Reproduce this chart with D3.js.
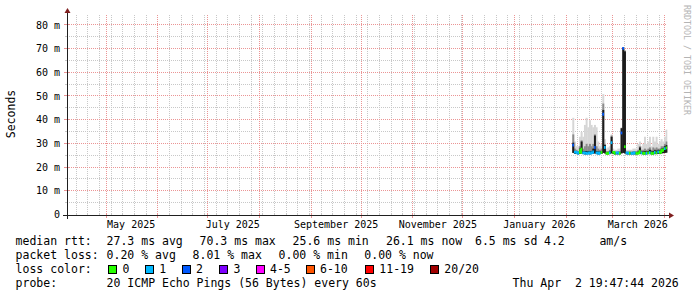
<!DOCTYPE html>
<html><head><meta charset="utf-8">
<script src="https://cdn.jsdelivr.net/npm/d3@7"></script>
<style>html,body{margin:0;padding:0;background:#fff;} svg{display:block;} text{white-space:pre;}</style>
</head><body>
<svg id="chart" width="697" height="297"></svg>
<script>
// ---------- data ----------
const rangeStart = "2025-04-07T19:47:44Z";
const rangeEnd = "2026-04-02T19:47:44Z";
const sampleDates = ["2026-02-05","2026-02-06","2026-02-07","2026-02-08","2026-02-09","2026-02-10","2026-02-11","2026-02-12","2026-02-13","2026-02-14",
  "2026-02-15","2026-02-16","2026-02-17","2026-02-18","2026-02-19","2026-02-20","2026-02-21","2026-02-22","2026-02-23","2026-02-24",
  "2026-02-25","2026-02-26","2026-02-27","2026-02-28","2026-03-01","2026-03-02","2026-03-03","2026-03-04","2026-03-05","2026-03-06",
  "2026-03-07","2026-03-08","2026-03-09","2026-03-10","2026-03-11","2026-03-12","2026-03-13","2026-03-14","2026-03-15","2026-03-16",
  "2026-03-17","2026-03-18","2026-03-19","2026-03-20","2026-03-21","2026-03-22","2026-03-23","2026-03-24","2026-03-25","2026-03-26",
  "2026-03-27","2026-03-28","2026-03-29","2026-03-30","2026-03-31","2026-04-01","2026-04-02"];
// median rtt (ms)
const medianRtt = [29.5,26.5,26.3,26.0,26.4,27.8,26.2,26.1,26.0,26.2,
  26.1,26.3,26.6,28.5,26.2,26.0,26.2,26.4,42.5,28.5,
  26.0,26.1,26.3,30.5,26.4,26.0,26.2,26.1,26.0,34.6,
  70.3,28.8,26.2,26.0,26.1,26.0,26.2,26.1,26.0,26.2,
  26.8,26.2,26.0,26.1,26.0,26.2,26.3,26.0,26.1,26.4,
  26.2,26.6,26.4,27.2,27.6,28.0,28.3];
// lost pings out of 20
const lossCount = [2,1,1,1,0,0,1,1,1,1,
  1,1,1,2,1,1,1,0,2,1,
  0,0,1,1,0,0,1,1,0,2,
  2,0,1,1,0,1,1,1,0,0,
  0,1,0,0,1,0,1,0,0,1,
  0,1,0,0,0,1,0];
// smoke: lowest ping, dense-core top, mid top, highest ping (ms)
const smokeMin = [26.2,25.8,25.7,25.6,25.8,26.0,25.7,25.6,25.6,25.7,
  25.6,25.7,25.8,26.0,25.7,25.6,25.7,25.8,26.2,26.0,
  25.6,25.6,25.7,26.0,25.7,25.6,25.6,25.6,25.6,26.0,
  26.2,26.0,25.6,25.6,25.6,25.6,25.6,25.6,25.6,25.7,
  25.8,25.7,25.6,25.6,25.6,25.7,25.7,25.6,25.6,25.7,
  25.7,25.8,25.7,26.0,26.1,26.2,26.3];
const smokeDark = [30.5,27,26.8,26.5,28,31,26.8,27,27,27,
  27,27,28,33.5,27,26.8,26.8,27,44.3,29.5,
  26.5,26.5,27,33,26.5,26.4,26.4,26.5,26.5,36.6,
  70.6,69,26.4,26.4,26.4,26.4,26.5,26.5,26.5,26.8,
  28.5,26.8,26.8,27,26.8,27,27.5,26.8,27,27.3,
  27.2,27.5,27.3,28,28.3,29,29.5];
const smokeMid = [34,28,27.5,27,29,31.5,28,29,30,29,
  30,29,30,34,29,28,27.5,28,47,30,
  27,27,27.5,33.5,27,26.8,26.8,27,27,36.6,
  70.6,69.3,26.8,26.8,26.8,26.8,27,27,27,27.5,
  29,27.5,27.5,28,27.5,28,28.5,27.5,28.5,28,
  28.5,28,28,29,29,30,31];
const smokeMax = [41,31,29,29,33,35,33,38,41,37,
  40,38,37,38,37,31,29,30,51,32,
  28,28.5,29,34,28,27.5,27.5,28,28,37,
  70.8,69.6,27.5,27.5,27.5,27.5,28,28,28,30,
  31,29,30,33,30,31,33,29,33,31,
  33,30,31,32,31,33,36];
const yTickValues = [0,10,20,30,40,50,60,70,80];
const yTickLabels = ["0","10 m","20 m","30 m","40 m","50 m","60 m","70 m","80 m"];
const yMax = 84.36;
const lossLabels = ["0","1","2","3","4-5","6-10","11-19","20/20"];
const lossColors = ["#26ff00","#00b8ff","#0059ff","#7e00ff","#ff00ff","#ff5500","#ff0000","#a10000"];
const medianStats = ["27.3 ms avg","70.3 ms max","25.6 ms min","26.1 ms now","6.5 ms sd","4.2","am/s"];
const lossStats = ["0.20 % avg","8.01 % max","0.00 % min","0.00 % now"];
const probeText = "20 ICMP Echo Pings (56 Bytes) every 60s";
const stampText = "Thu Apr  2 19:47:44 2026";

// ---------- layout ----------
const L = 67, R = 667, T = 15, B = 215;
const MONO = "'DejaVu Sans Mono', monospace";
const svg = d3.select("#chart");
svg.append("rect").attr("width",697).attr("height",297).attr("fill","#fff");

const x = d3.scaleUtc().domain([new Date(rangeStart), new Date(rangeEnd)]).range([L, R]);
const y = d3.scaleLinear().domain([0, yMax]).range([B, T]);
const snap = v => Math.round(v) + 0.5;

// grid
const g = svg.append("g");
const weeks = d3.utcSunday.range(x.domain()[0], x.domain()[1]);
const months = d3.utcMonth.range(x.domain()[0], x.domain()[1]);
const monthSet = new Set(months.map(d => +d));
const minorY = d3.range(5, yMax, 10);
const gridCol = "#c8c8c8", mgridCol = "#eb9595";
weeks.filter(d => !monthSet.has(+d)).forEach(d => {
  const xx = snap(x(d));
  g.append("line").attr("x1",xx).attr("x2",xx).attr("y1",T).attr("y2",B).style("stroke",gridCol).style("stroke-dasharray","1 1");
  g.append("line").attr("x1",xx).attr("x2",xx).attr("y1",B-2).attr("y2",B).style("stroke",gridCol);
});
minorY.forEach(v => {
  const yy = snap(y(v)) - 1;
  g.append("line").attr("x1",L).attr("x2",R).attr("y1",yy).attr("y2",yy).style("stroke",gridCol).style("stroke-dasharray","1 1");
  g.append("line").attr("x1",L-2).attr("x2",L).attr("y1",yy).attr("y2",yy).style("stroke",gridCol);
});
months.forEach(d => {
  const xx = snap(x(d));
  g.append("line").attr("x1",xx).attr("x2",xx).attr("y1",T).attr("y2",B).style("stroke",mgridCol).style("stroke-dasharray","1 1");
  g.append("line").attr("x1",xx).attr("x2",xx).attr("y1",B-2).attr("y2",B+3).style("stroke",mgridCol);
});
yTickValues.slice(1).forEach(v => {
  const yy = snap(y(v)) - 1;
  g.append("line").attr("x1",L).attr("x2",R).attr("y1",yy).attr("y2",yy).style("stroke",mgridCol).style("stroke-dasharray","1 1");
  g.append("line").attr("x1",L-3).attr("x2",L+2).attr("y1",yy).attr("y2",yy).style("stroke",mgridCol);
});

// smoke
const dates = sampleDates.map(s => new Date(s + "T00:00:00Z"));
const clipX = v => Math.max(L, Math.min(R, v));
const sm = svg.append("g");
const layers = [[smokeMax,"#d6d6d6"],[smokeMid,"#8c8c8c"],[smokeDark,"#1c1c1c"]];
layers.forEach(([arr, col]) => {
  sm.selectAll(null).data(dates).enter().append("rect")
    .attr("x", d => clipX(x(d)))
    .attr("width", d => clipX(x(d3.utcDay.offset(d,1))) - clipX(x(d)) + 0.3)
    .attr("y", (d,i) => y(arr[i]))
    .attr("height", (d,i) => y(smokeMin[i]) - y(arr[i]))
    .attr("fill", col);
});

// median coloured by loss
const lossClass = n => n === 0 ? 0 : n === 1 ? 1 : n === 2 ? 2 : n === 3 ? 3 : n <= 5 ? 4 : n <= 10 ? 5 : n <= 19 ? 6 : 7;
const md = svg.append("g");
dates.forEach((d,i) => {
  const c = lossClass(lossCount[i]);
  let p = `M${clipX(x(d))},${y(medianRtt[i])}H${clipX(x(d3.utcDay.offset(d,1)))}`;
  if (i + 1 < dates.length && lossClass(lossCount[i+1]) === c && Math.abs(medianRtt[i+1] - medianRtt[i]) < 2)
    p += `V${y(medianRtt[i+1])}`;
  md.append("path").attr("d", p).attr("fill","none").attr("stroke", lossColors[c]).attr("stroke-width",2.8);
});

// axes
const yAxis = d3.axisLeft(y).tickValues(yTickValues).tickFormat((d,i) => yTickLabels[i]).tickSize(0).tickPadding(7);
const ya = svg.append("g").attr("transform",`translate(${L},-0.5)`).call(yAxis);
ya.select(".domain").remove();
ya.selectAll("text").attr("font-family",MONO).attr("font-size","10px").attr("fill","#000");

const labelDates = d3.utcMonth.every(2).range(x.domain()[0], x.domain()[1]).map(d => d3.utcDay.offset(d,15));
const xAxis = d3.axisBottom(x).tickValues(labelDates).tickFormat(d3.utcFormat("%B %Y")).tickSize(0).tickPadding(6);
const xa = svg.append("g").attr("transform",`translate(0,${B})`).call(xAxis);
xa.select(".domain").remove();
xa.selectAll("text").attr("font-family",MONO).attr("font-size","10px").attr("fill","#000");

// axis lines & arrows
svg.append("line").attr("x1",L-4).attr("x2",R+4).attr("y1",B+0.5).attr("y2",B+0.5).attr("stroke","#1f1f1f");
svg.append("line").attr("x1",L+0.5).attr("x2",L+0.5).attr("y1",B+4).attr("y2",T-4).attr("stroke","#1f1f1f");
svg.append("path").attr("d",`M${R+2},${B-2.5}L${R+2},${B+3.5}L${R+7},${B+0.5}Z`).attr("fill","#7f1f1f");
svg.append("path").attr("d",`M${L-2.5},${T-2}L${L+3.5},${T-2}L${L+0.5},${T-7}Z`).attr("fill","#7f1f1f");

// unit + watermark
svg.append("text").attr("transform","translate(15,114) rotate(-90)").attr("text-anchor","middle")
  .attr("font-family",MONO).attr("font-size","11.5px").attr("fill","#000").text("Seconds");
svg.append("text").attr("transform","translate(684,5) rotate(90)")
  .attr("font-family",MONO).attr("font-size","8.3px").attr("fill","#b4b4b4").text("RRDTOOL / TOBI OETIKER");

// legend
const lg = svg.append("g").attr("font-family",MONO).attr("font-size","11.5px").attr("fill","#000");
const tx = (xx, yy, s) => lg.append("text").attr("x", xx).attr("y", yy).text(s);
const rows = [245, 259, 273, 287];
tx(15.6, rows[0], "median rtt:");
[106.6, 199.6, 292.6, 386, 475, 544, 599.4].forEach((xx,i) => tx(xx, rows[0], medianStats[i]));
tx(15.6, rows[1], "packet loss:");
[106.6, 192.6, 278.6, 364.3].forEach((xx,i) => tx(xx, rows[1], lossStats[i]));
tx(15.6, rows[2], "loss color:");
const boxX = [108.5, 145.5, 182.5, 219.5, 256.5, 306.5, 365.5, 430.5];
const labX = [122.6, 159.3, 196, 233.6, 270, 320, 379.3, 444.3];
lossLabels.forEach((s,i) => {
  lg.append("rect").attr("x", boxX[i]).attr("y", 265.5).attr("width",8).attr("height",8)
    .attr("fill", lossColors[i]).attr("stroke","#000").attr("stroke-width",1);
  tx(labX[i], rows[2], s);
});
tx(15.6, rows[3], "probe:");
tx(106.6, rows[3], probeText);
tx(512.6, rows[3], stampText);
</script>
</body></html>
